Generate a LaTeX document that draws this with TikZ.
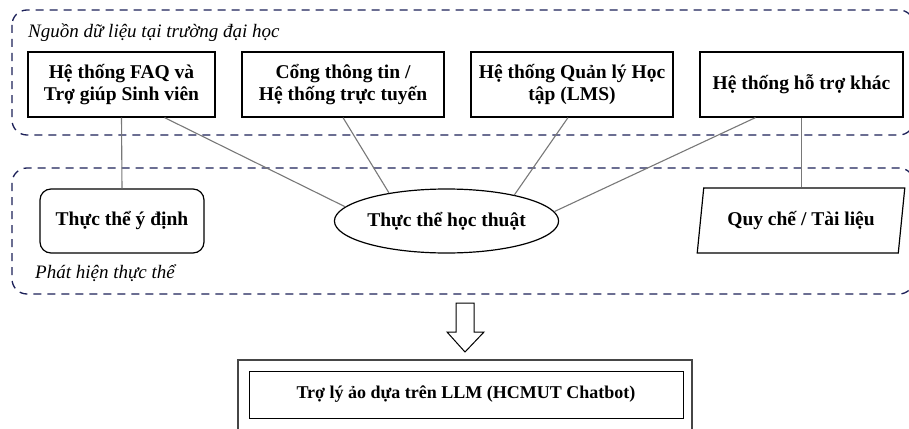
\documentclass[tikz,border=0pt]{standalone}
\usepackage{fontspec}
\setmainfont{Liberation Serif}
\usetikzlibrary{shapes.geometric,calc}
\definecolor{navy}{RGB}{28,32,88}
\definecolor{conn}{RGB}{120,120,120}
\definecolor{frame}{RGB}{70,70,70}
\tikzset{
  region/.style={draw=navy,line width=1.3pt,dash pattern=on 8pt off 6pt,rounded corners=15pt},
  srcbox/.style={draw=black,line width=1.2pt,minimum height=65pt,inner sep=0pt,align=center,font=\fontsize{19.5}{22}\selectfont\bfseries},
  entity/.style={draw=black,line width=1.2pt,minimum height=64pt,inner sep=0pt,align=center,font=\fontsize{19.5}{22}\selectfont\bfseries},
  regionlabel/.style={anchor=west,inner sep=0pt,font=\fontsize{19}{22}\selectfont\itshape},
  link/.style={draw=conn,line width=1.1pt},
}
\begin{document}
\begin{tikzpicture}[x=1pt,y=-1pt]
\useasboundingbox (0,0) rectangle (909,428);
\clip (0,0) rectangle (909,428);
% regions
\draw[region] (12,10) rectangle (914,135);
\draw[region] (12,168) rectangle (914,294);
\node[regionlabel] (t1) at (28,33) {Nguồn dữ liệu tại trường đại học};
\node[regionlabel] (t2) at (35,273) {Phát hiện thực thể};
% source boxes
\node[srcbox,minimum width=187pt] (b1) at (121.5,84.5) {Hệ thống FAQ và\\Trợ giúp Sinh viên};
\node[srcbox,minimum width=202pt] (b2) at (343,84.5) {Cổng thông tin /\\Hệ thống trực tuyến};
\node[srcbox,minimum width=202pt] (b3) at (572,84.5) {Hệ thống Quản lý Học\\tập (LMS)};
\node[srcbox,minimum width=203pt] (b4) at (801.5,84.5) {Hệ thống hỗ trợ khác};
% entities
\node[entity,rounded corners=11pt,minimum width=164pt] (ie) at (122,221) {Thực thể ý định};
\node[entity,ellipse,minimum width=207pt] (ell) at (446.5,221) {Thực thể học thuật};
\node[entity,trapezium,trapezium left angle=75,trapezium right angle=105,trapezium stretches=true,minimum width=208pt,minimum height=65pt] (qc) at (801,220.5) {Quy chế / Tài liệu};
% connectors
\draw[link] (b1.south) -- (ie.north);
\draw[link] ([xshift=43pt]b1.south) -- (ell.172);
\draw[link] (b2.south) -- (ell.154);
\draw[link] ([xshift=-4pt]b3.south) -- (ell.21);
\draw[link] ([xshift=-46pt]b4.south) -- (ell.5);
\draw[link] (b4.south) -- (b4.south |- qc.north);
% bottom
\node[draw=black,line width=1pt,minimum width=434pt,minimum height=47pt,inner sep=0pt,font=\fontsize{18}{21}\selectfont\bfseries] (llm) at (466,394.5) {Trợ lý ảo dựa trên LLM (HCMUT Chatbot)};
\draw[draw=frame,line width=1.5pt] (238,440) |- (692,360) -- (692,440);
% hollow arrow
\draw[line width=1pt,line join=miter] (456,303) -- (474,303) -- (474,332) -- (484,332) -- (465,352) -- (447,332) -- (456,332) -- cycle;
\end{tikzpicture}
\end{document}
